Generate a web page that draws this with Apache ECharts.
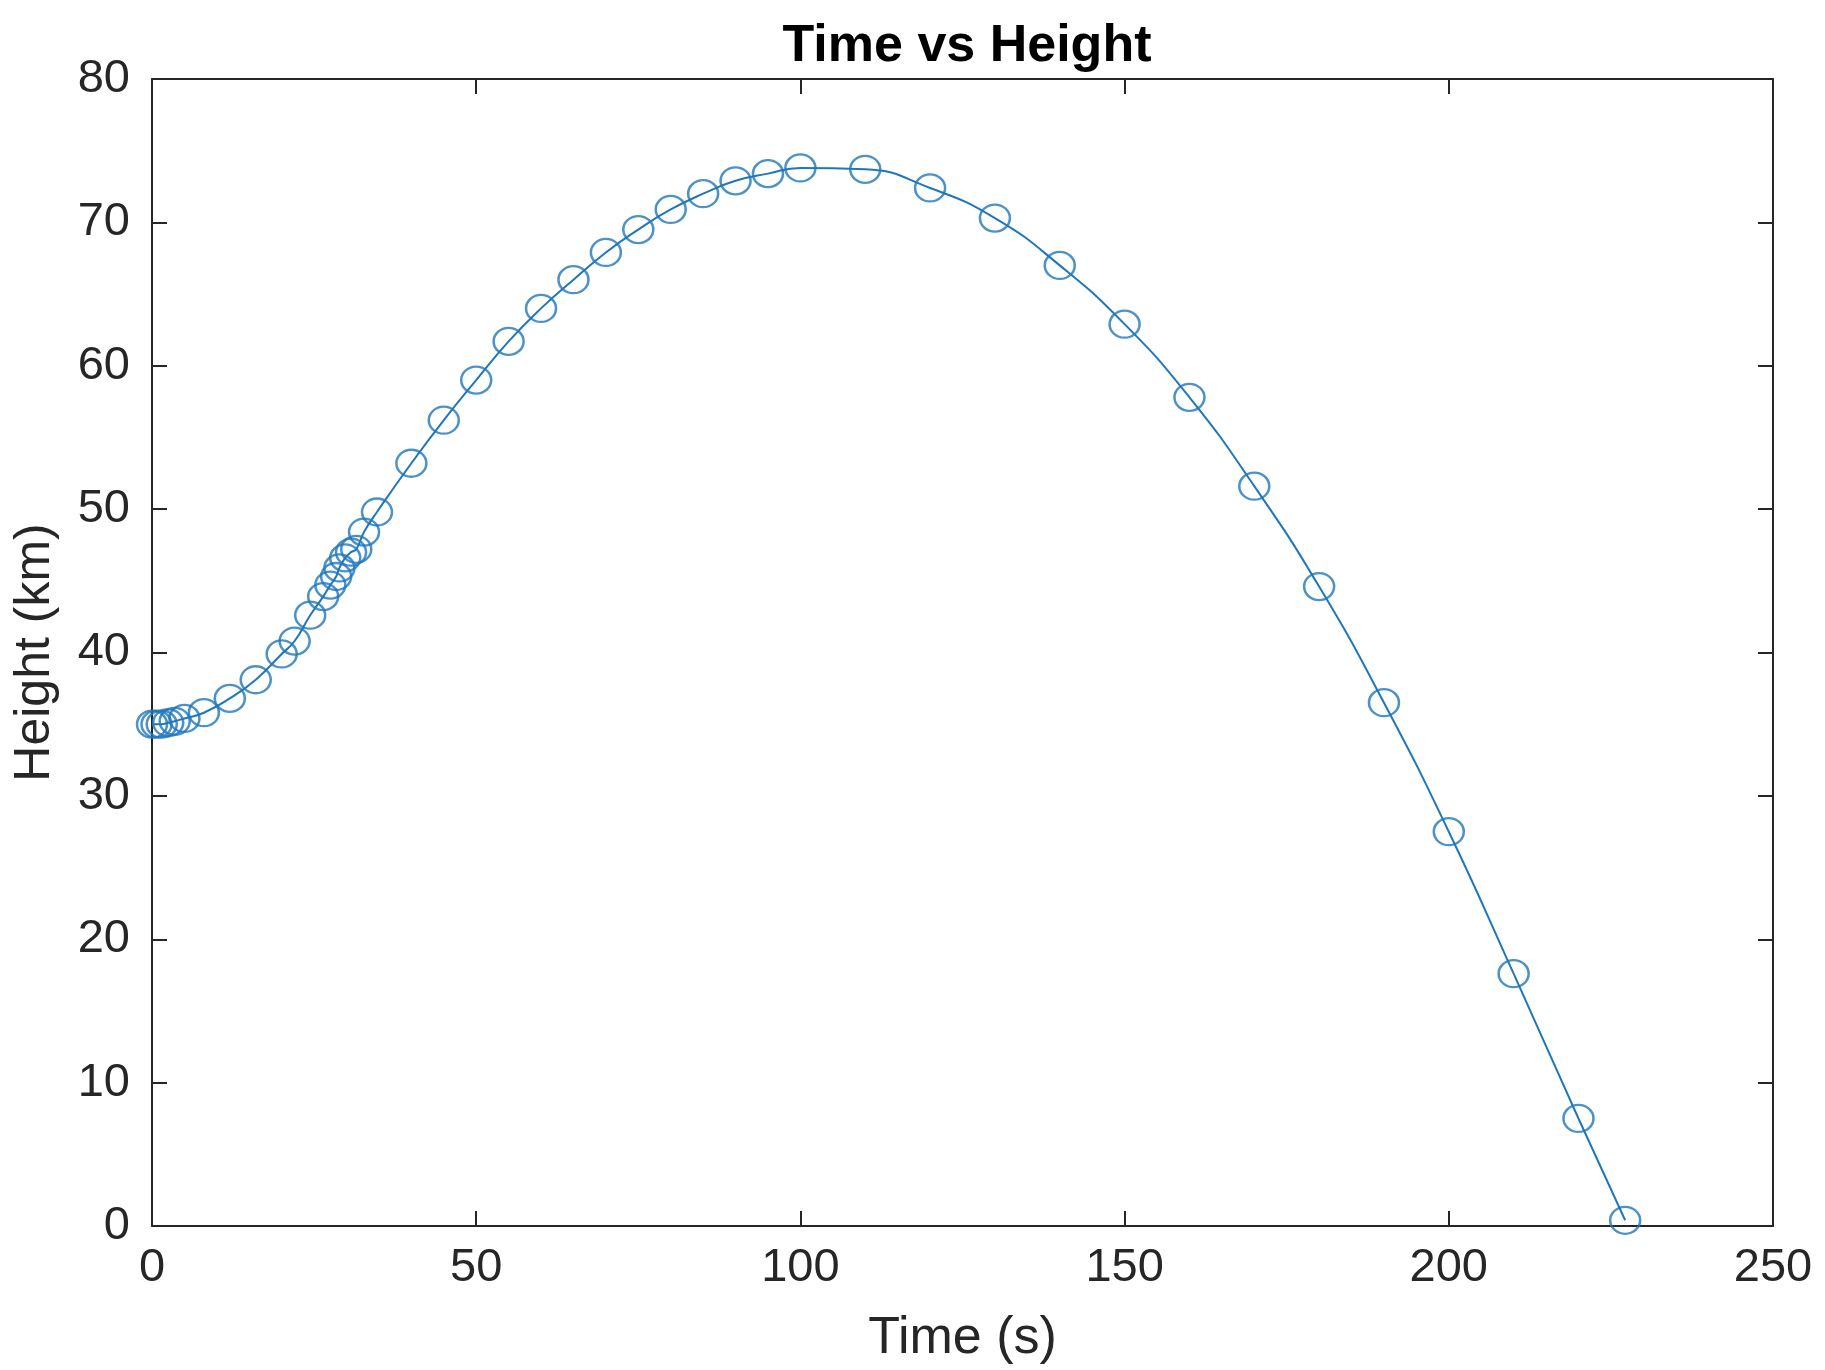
<!DOCTYPE html>
<html>
<head>
<meta charset="utf-8">
<script src="https://cdn.jsdelivr.net/npm/echarts@6/dist/echarts.min.js"></script>
<style>
html,body{margin:0;padding:0;background:#fff;}
#chart{width:1825px;height:1370px;}
</style>
</head>
<body>
<div id="chart"></div>
<script>
const titleText = 'Time vs Height';
const xLabel = 'Time (s)';
const yLabel = 'Height (km)';
const times = [0, 0.7, 1.5, 2.5, 3.5, 5, 8, 12, 16, 20, 22, 24.4, 26.4, 27.5, 28.4, 28.9, 29.8, 30.7, 31.5, 32.7, 34.7,
  40, 45, 50, 55, 60, 65, 70, 75, 80, 85, 90, 95, 100, 110, 120, 130, 140, 150, 160, 170, 180, 190, 200, 210, 220, 227.2];
const heights = [35.0, 35.0, 35.0, 35.1, 35.2, 35.4, 35.8, 36.8, 38.1, 39.9, 40.8, 42.6, 43.9, 44.7, 45.3, 45.9, 46.6, 47.0, 47.2, 48.4, 49.8,
  53.2, 56.2, 59.0, 61.7, 64.0, 66.0, 67.9, 69.5, 70.9, 72.0, 72.9, 73.4, 73.8, 73.7, 72.4, 70.3, 67.0, 62.9, 57.8, 51.6, 44.6, 36.5, 27.5, 17.6, 7.5, 0.4];
const xTicks = [0, 50, 100, 150, 200, 250];
const yTicks = [0, 10, 20, 30, 40, 50, 60, 70, 80];

const pts = times.map((t, i) => [t, heights[i]]);
const axisColor = '#262626';
const font = 'Liberation Sans, Arial, Helvetica, sans-serif';
const chart = echarts.init(document.getElementById('chart'));
function baseAxis() {
  return {
    axisLine: {show: true, onZero: false, lineStyle: {color: axisColor, width: 2}},
    axisTick: {show: true, inside: true, length: 15, lineStyle: {color: axisColor, width: 2}},
    splitLine: {show: false}
  };
}
chart.setOption({
  animation: false,
  backgroundColor: '#fff',
  title: {
    text: titleText, left: 962, top: 16, textAlign: 'center',
    textStyle: {fontFamily: font, fontWeight: 'bold', fontSize: 52, color: '#000'}
  },
  grid: {left: 152, right: 52, top: 79, bottom: 142},
  xAxis: [
    Object.assign(baseAxis(), {
      type: 'value', min: xTicks[0], max: xTicks[xTicks.length - 1], interval: 50, position: 'bottom',
      name: xLabel, nameLocation: 'middle', nameGap: 87,
      nameTextStyle: {fontFamily: font, fontSize: 52, color: axisColor},
      axisLabel: {fontFamily: font, fontSize: 47, color: axisColor, margin: 19}
    }),
    Object.assign(baseAxis(), {
      type: 'value', min: xTicks[0], max: xTicks[xTicks.length - 1], interval: 50, position: 'top',
      axisLabel: {show: false}
    })
  ],
  yAxis: [
    Object.assign(baseAxis(), {
      type: 'value', min: yTicks[0], max: yTicks[yTicks.length - 1], interval: 10, position: 'left',
      name: yLabel, nameLocation: 'middle', nameGap: 92, nameRotate: 90,
      nameTextStyle: {fontFamily: font, fontSize: 50, color: axisColor},
      axisLabel: {fontFamily: font, fontSize: 47, color: axisColor, margin: 22}
    }),
    Object.assign(baseAxis(), {
      type: 'value', min: yTicks[0], max: yTicks[yTicks.length - 1], interval: 10, position: 'right',
      axisLabel: {show: false}
    })
  ],
  series: [
    {
      type: 'line', data: pts, smooth: 0.5, showSymbol: false,
      lineStyle: {color: '#1f77bb', width: 2}, z: 2
    },
    {
      type: 'scatter', data: pts, symbol: 'circle', symbolSize: [30, 27],
      itemStyle: {color: 'rgba(0,0,0,0)', borderColor: '#1f77bb', borderWidth: 2.4}, z: 3
    }
  ]
});
</script>
</body>
</html>
